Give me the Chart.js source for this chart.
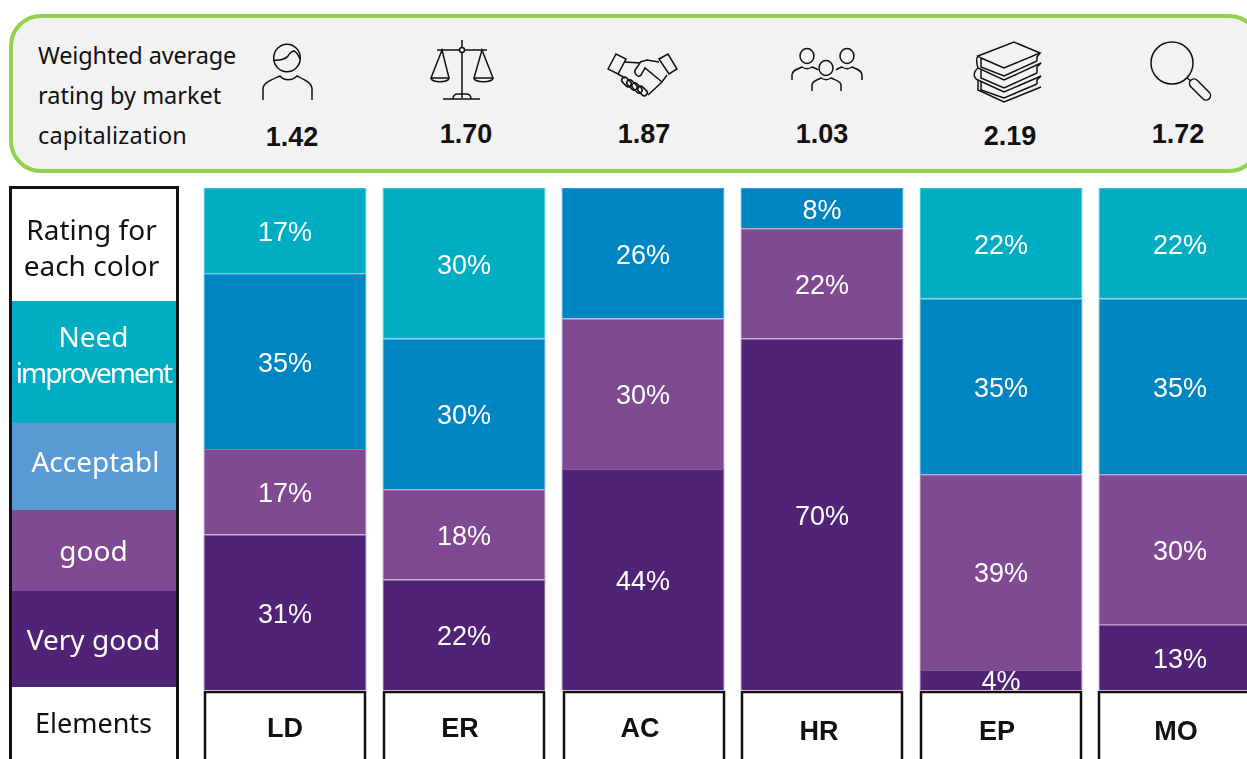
<!DOCTYPE html>
<html>
<head>
<meta charset="utf-8">
<script src="https://cdn.jsdelivr.net/npm/chart.js@4/dist/chart.umd.min.js"></script>
<style>
  html, body { margin: 0; padding: 0; background: #fff; width: 1247px; height: 759px; overflow: hidden; }
  #stage { position: relative; width: 1247px; height: 759px; overflow: hidden; }
  #chartRatings { position: absolute; left: 0; top: 0; }
  #panel {
    position: absolute; left: 9px; top: 14px; width: 1244px; height: 151px;
    background: #f2f2f2; border: 4px solid #92d050; border-radius: 32px;
  }
  #panelTitle {
    position: absolute; left: 38px; top: 35px; font: 23.5px/40px "Noto Sans", sans-serif; color: #111;
  }
  .score {
    position: absolute; width: 80px; margin-left: -40px; text-align: center;
    font: bold 27px "Liberation Sans", Arial, sans-serif; color: #111;
  }
  #icons { position: absolute; left: 0; top: 0; }
  #icons * { fill: none; stroke: #111; stroke-width: 1.5; }
  #legendBox { position: absolute; left: 0; top: 0; }
  .row {
    position: absolute; left: 11px; width: 168px; color: #fff; text-align: center;
    font: 28px/36px "Noto Sans", sans-serif; display: flex; flex-direction: column; justify-content: center;
  }
  #frame {
    position: absolute; left: 9px; top: 186px; width: 164px; height: 600px;
    border: 3px solid #111;
  }
</style>
</head>
<body>
<div id="stage">
  <canvas id="chartRatings" width="1300" height="759"></canvas>

  <div id="panel"></div>
  <div id="panelTitle"><span style="letter-spacing:-0.15px">Weighted average</span><br>rating by market<br><span style="letter-spacing:0.2px">capitalization</span></div>
  <svg id="icons" width="1247" height="759">
    <!-- person -->
    <ellipse cx="287" cy="58" rx="13.3" ry="13.7"/>
    <path d="M273 60 C279 61 286 59 288 56 C290 53 292 51 294 51 C297 52 298 55 300 59"/>
    <path d="M263 100 V89 C263 83 271 80 280 76 C284 81 292 81 297 76 C305 80 312 83 312 89 V100"/>
    <!-- scales -->
    <path d="M462 40 V98 M437 50 H487 M443 99 H480 M453 99 C453 95 455 94 458 94 H466 C469 94 471 95 471 99"/>
    <circle cx="462" cy="50" r="2.5" style="fill:#f2f2f2"/>
    <path d="M442 50 L431 78 H449 Z M482 50 L474 78 H493 Z"/>
    <path d="M431 78 C432 83 448 83 449 78 M474 78 C475 83 492 83 493 78"/>
    <!-- handshake -->
    <path d="M608 69 L616 54 L626 59 L618 74 Z M659 59 L668 54 L677 69 L669 74 Z"/>
    <path d="M625 62 L640 63 L635 70 C634 75 639 78 641 75 L645 68 L662 82"/>
    <path d="M640 62 L647 60 L659 62 M667 75 L662 82 L648 95 M618 74 L625 78"/>
    <rect x="621" y="79" width="11" height="6" rx="3" transform="rotate(45 626.5 82)"/>
    <rect x="626" y="82" width="12" height="6" rx="3" transform="rotate(45 632 85)"/>
    <rect x="631" y="85" width="12" height="6" rx="3" transform="rotate(45 637 88)"/>
    <rect x="637" y="88" width="11" height="6" rx="3" transform="rotate(45 642.5 91)"/>
    <!-- group -->
    <ellipse cx="807" cy="56" rx="7" ry="7.5"/>
    <ellipse cx="847" cy="56" rx="7" ry="7.5"/>
    <ellipse cx="826" cy="68" rx="7" ry="7.5"/>
    <path d="M792 80 V75 C792 70 798 69 802 67 C805 69 809 69 812 67 C814 68 816 68 818 70"/>
    <path d="M862 80 V75 C862 70 856 69 852 67 C849 69 845 69 842 67 C840 68 838 68 836 70"/>
    <path d="M812 91 V85 C812 81 817 80 821 78 C824 80 828 80 831 78 C835 80 841 81 841 85 V91"/>
    <!-- books -->
    <path d="M981 58 L978 56 L1014 42 L1040 53 L1004 68 L981 58 V67 L1004 76 L1037 61"/>
    <path d="M978 56 C976 59 977 65 978 68 L1004 80 L1041 63"/>
    <path d="M1040 53 L1037 57 V61 M1041 63 L1037 67 V73 M1041 76 L1037 80 V84"/>
    <path d="M981 70 V78 L1004 88 L1037 73"/>
    <path d="M978 68 C973 72 973 78 978 80 L1004 92 L1041 76"/>
    <path d="M981 82 V90 L1004 98 L1037 84"/>
    <path d="M978 80 V90 L1004 102 L1041 87"/>
    <!-- magnifier -->
    <circle cx="1172" cy="63" r="21"/>
    <path d="M1187 78 L1191 81"/>
    <rect x="1187" y="85" width="26" height="9" rx="4.5" transform="rotate(45 1200 89.5)"/>
  </svg>
  <div id="scores"></div>

  <div id="legendBox"></div>
  <div id="frame"></div>
</div>

<script>
const CATEGORIES = ["LD", "ER", "AC", "HR", "EP", "MO"];
const VERY_GOOD = [31, 22, 44, 70, 4, 13];
const GOOD = [17, 18, 30, 22, 39, 30];
const ACCEPTABLE = [35, 30, 26, 8, 35, 35];
const NEED_IMPROVEMENT = [17, 30, null, null, 22, 22];
const SCORES = ["1.42", "1.70", "1.87", "1.03", "2.19", "1.72"];

const COLOR_VERY_GOOD = "#512376";
const COLOR_GOOD = "#7f4a92";
const COLOR_ACCEPTABLE = "#0085c3";
const COLOR_NEED = "#00aec4";
// each segment has a faint lighter edge
const EDGE_VERY_GOOD = "#7d5f98";
const EDGE_GOOD = "#9a74aa";
const EDGE_ACCEPTABLE = "#33a0d0";
const EDGE_NEED = "#38c0d2";

// the element labels and cells sit a little off centre in the original
const CELL_LABEL_DX = [0, -4, -3, -3, -4, -4];
const CELL_LABEL_Y = [730, 730, 730, 733, 733, 733];
const CELL_BOX_DX = [0, 0, 1, 0, 0, -1];
const SCORE_POS = [[292, 122], [466, 119], [644, 119], [822, 119], [1010, 121], [1178, 119]];

const scoresEl = document.getElementById("scores");
SCORES.forEach((text, i) => {
  const el = document.createElement("div");
  el.className = "score";
  el.textContent = text;
  el.style.left = SCORE_POS[i][0] + "px";
  el.style.top = SCORE_POS[i][1] + "px";
  scoresEl.appendChild(el);
});

const LEGEND_ROWS = [
  { html: "Rating for<br>each color", top: 188, bottom: 301, bg: "#fff", color: "#111", width: 165, dy: 2, dx: -2 },
  { html: "Need<br><span style='letter-spacing:-2px'>improvement</span>", top: 301, bottom: 423, bg: COLOR_NEED, dy: -8 },
  { html: "Acceptabl", top: 423, bottom: 510, bg: "#5b9bd5", dy: -6, dx: 2 },
  { html: "good", top: 510, bottom: 591, bg: COLOR_GOOD, dy: -1 },
  { html: "Very good", top: 591, bottom: 687, bg: COLOR_VERY_GOOD, width: 165 },
  { html: "Elements", top: 687, bottom: 759, bg: "#fff", color: "#111", width: 165, size: 27 },
];
const legendEl = document.getElementById("legendBox");
LEGEND_ROWS.forEach((row) => {
  const el = document.createElement("div");
  el.className = "row";
  const shift = "position:relative;left:" + (row.dx || 0) + "px;top:" + (row.dy || 0) + "px";
  el.innerHTML = "<div style='width:165px;" + shift + "'>" + row.html + "</div>";
  el.style.top = row.top + "px";
  el.style.height = row.bottom - row.top + "px";
  el.style.background = row.bg;
  if (row.color) el.style.color = row.color;
  if (row.width) el.style.width = row.width + "px";
  if (row.size) el.style.fontSize = row.size + "px";
  legendEl.appendChild(el);
});

const segmentLabels = {
  id: "segmentLabels",
  afterDatasetsDraw(chart) {
    const ctx = chart.ctx;
    ctx.save();
    ctx.fillStyle = "#fff";
    ctx.font = '27px "Liberation Sans", Arial, sans-serif';
    ctx.textAlign = "center";
    ctx.textBaseline = "middle";
    chart.data.datasets.forEach((ds, d) => {
      chart.getDatasetMeta(d).data.forEach((bar, i) => {
        if (ds.data[i] == null) return;
        const mid = (bar.y + bar.base) / 2;
        ctx.fillText(ds.data[i] + "%", bar.x, mid + 3);
      });
    });
    ctx.restore();
  },
};

// white cells with a black outline under each bar, holding the element names
const elementCells = {
  id: "elementCells",
  afterDraw(chart) {
    const ctx = chart.ctx;
    const xScale = chart.scales.x;
    ctx.save();
    CATEGORIES.forEach((name, i) => {
      const cx = xScale.getPixelForValue(i);
      ctx.fillStyle = "#fff";
      ctx.strokeStyle = "#111";
      ctx.lineWidth = 2.5;
      ctx.fillRect(cx - 80 + CELL_BOX_DX[i], 692, 160, 80);
      ctx.strokeRect(cx - 80 + CELL_BOX_DX[i], 692, 160, 80);
      ctx.fillStyle = "#111";
      ctx.font = 'bold 27px "Liberation Sans", Arial, sans-serif';
      ctx.textAlign = "center";
      ctx.textBaseline = "middle";
      ctx.fillText(name, cx + CELL_LABEL_DX[i], CELL_LABEL_Y[i]);
    });
    ctx.restore();
  },
};

function makeDataset(label, data, color, edge) {
  return {
    label: label,
    data: data,
    backgroundColor: color,
    borderColor: edge,
    borderWidth: 1,
    barPercentage: 0.91,
    categoryPercentage: 1,
  };
}

new Chart(document.getElementById("chartRatings"), {
  type: "bar",
  data: {
    labels: CATEGORIES,
    datasets: [
      makeDataset("Very good", VERY_GOOD, COLOR_VERY_GOOD, EDGE_VERY_GOOD),
      makeDataset("good", GOOD, COLOR_GOOD, EDGE_GOOD),
      makeDataset("Acceptable", ACCEPTABLE, COLOR_ACCEPTABLE, EDGE_ACCEPTABLE),
      makeDataset("Need improvement", NEED_IMPROVEMENT, COLOR_NEED, EDGE_NEED),
    ],
  },
  options: {
    responsive: false,
    animation: false,
    layout: { padding: { left: 195.5, right: 30.5, top: 188, bottom: 69 } },
    scales: {
      x: { stacked: true, display: false },
      y: { stacked: true, display: false, min: 0, max: 100 },
    },
    plugins: { legend: { display: false }, tooltip: { enabled: false } },
  },
  plugins: [segmentLabels, elementCells],
});
</script>
</body>
</html>
